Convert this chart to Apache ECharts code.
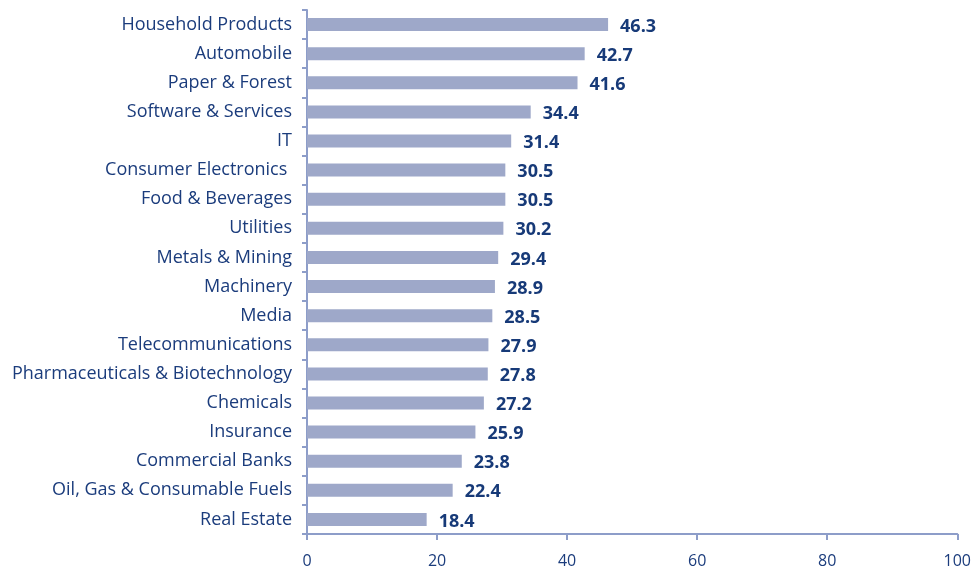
<!DOCTYPE html>
<html>
<head>
<meta charset="utf-8">
<script src="https://cdn.jsdelivr.net/npm/echarts@6/dist/echarts.min.js"></script>
<style>
  html, body { margin: 0; padding: 0; background: #fff; }
  #chart { width: 974px; height: 572px; }
</style>
</head>
<body>
<div id="chart"></div>
<script>
// top to bottom as in the picture
const sectors = [
  'Household Products', 'Automobile', 'Paper & Forest', 'Software & Services', 'IT',
  'Consumer Electronics ', 'Food & Beverages', 'Utilities', 'Metals & Mining', 'Machinery',
  'Media', 'Telecommunications', 'Pharmaceuticals & Biotechnology', 'Chemicals', 'Insurance',
  'Commercial Banks', 'Oil, Gas & Consumable Fuels', 'Real Estate'
];
const values = [46.3, 42.7, 41.6, 34.4, 31.4, 30.5, 30.5, 30.2, 29.4, 28.9, 28.5, 27.9, 27.8, 27.2, 25.9, 23.8, 22.4, 18.4];

const textColor = '#1b3c7c';
const axisColor = '#8d9dc9';

const chart = echarts.init(document.getElementById('chart'));
chart.setOption({
  animation: false,
  grid: { left: 307, right: 16, top: 10, bottom: 38, containLabel: false },
  xAxis: {
    type: 'value',
    min: 0, max: 100, interval: 20,
    axisLine: { show: true, lineStyle: { color: axisColor, width: 2 } },
    axisTick: { show: true, length: 6, lineStyle: { color: axisColor, width: 2 } },
    splitLine: { show: false },
    axisLabel: { color: textColor, fontSize: 16, margin: 19, fontFamily: 'Open Sans' }
  },
  yAxis: {
    type: 'category',
    data: sectors,
    inverse: true,
    axisLine: { show: true, lineStyle: { color: axisColor, width: 2 } },
    axisTick: { show: true, length: 5, lineStyle: { color: axisColor, width: 2 } },
    axisLabel: { color: textColor, fontSize: 18, margin: 15, fontFamily: 'Open Sans' }
  },
  series: [{
    type: 'bar',
    data: values,
    barWidth: 13,
    itemStyle: { color: '#9ea8c9' },
    label: {
      show: true, position: 'right', distance: 12, offset: [0, 2],
      color: '#173a78', fontSize: 18, fontWeight: 'bold', fontFamily: 'Open Sans'
    }
  }]
});
</script>
</body>
</html>
